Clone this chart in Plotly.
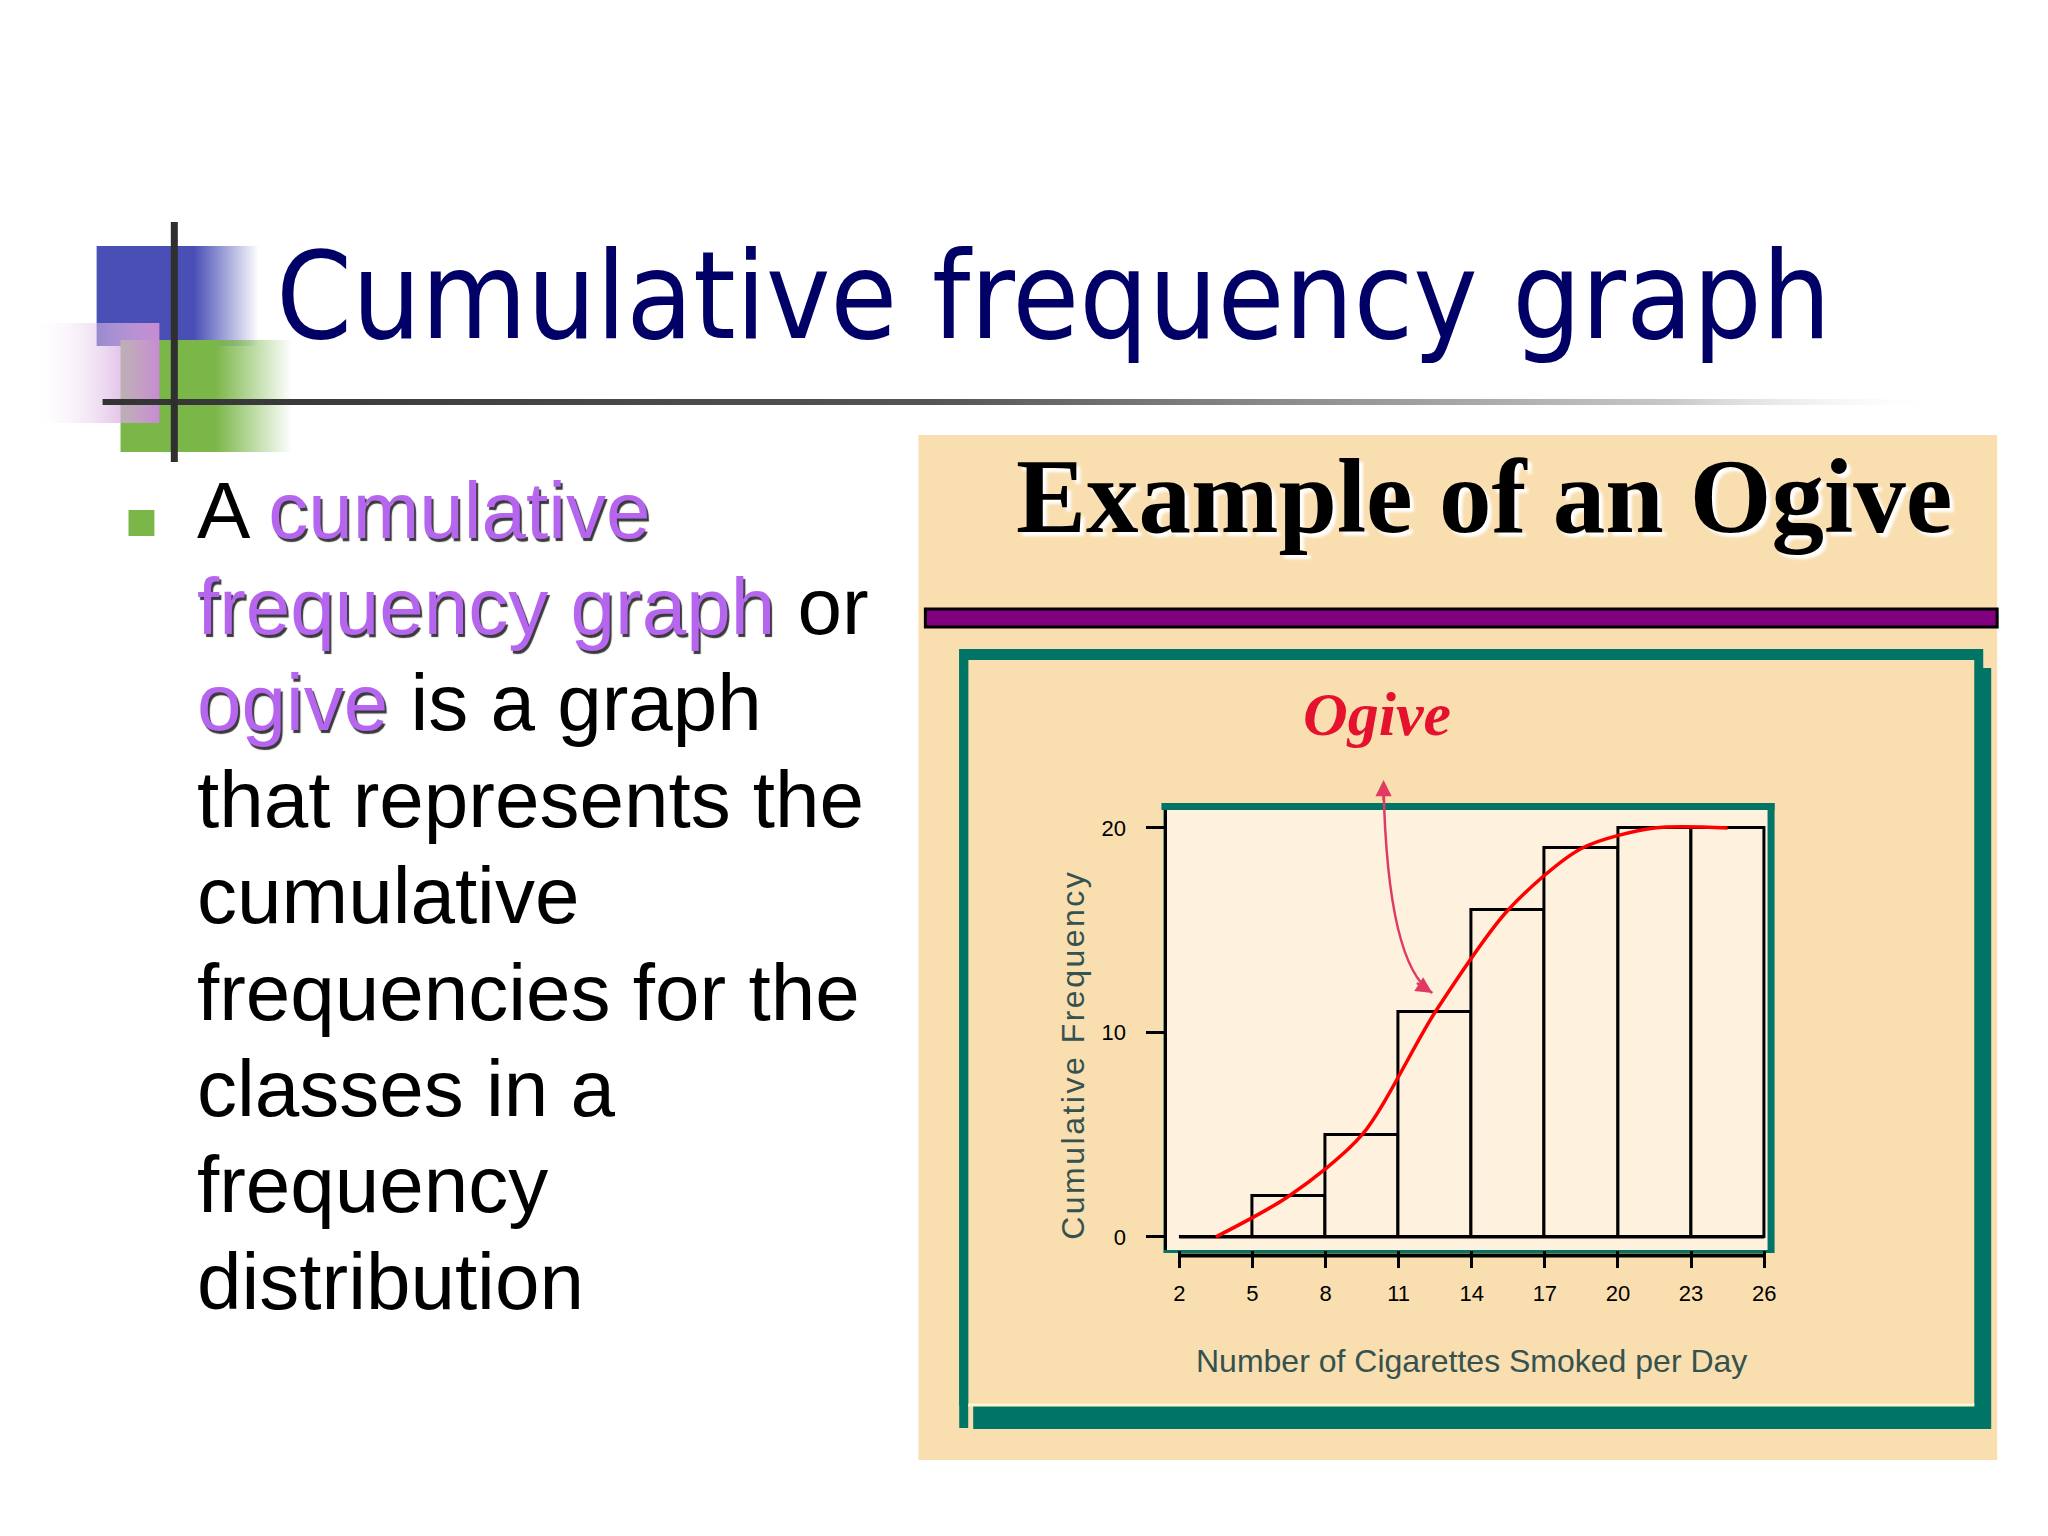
import plotly.graph_objects as go

W, H = 2048, 1536

# ---- chart data ----
class_edges = [2, 5, 8, 11, 14, 17, 20, 23, 26]
cum_freq = [0, 2, 5, 11, 16, 19, 20, 20]
x_tick_labels = ["2", "5", "8", "11", "14", "17", "20", "23", "26"]
y_ticks = [0, 10, 20]

slide_title = "Cumulative frequency graph"
chart_title = "Example of an Ogive"
curve_label = "Ogive"
x_title = "Number of Cigarettes Smoked per Day"
y_title = "Cumulative Frequency"

HILITE = "#B565EE"
hl = "<span style='color:%s;text-shadow:2px 3px 1px #3a3a3a'>%%s</span>" % HILITE
bullet_lines = [
    "A " + hl % "cumulative",
    hl % "frequency graph" + " or",
    hl % "ogive" + " is a graph",
    "that represents the",
    "cumulative",
    "frequencies for the",
    "classes in a",
    "frequency",
    "distribution",
]

class_mids = [(a + b) / 2 for a, b in zip(class_edges[:-1], class_edges[1:])]
class_widths = [b - a for a, b in zip(class_edges[:-1], class_edges[1:])]

PANEL = "#F9DEB0"
PLOT_BG = "#FEF1DE"
TEAL = "#007565"
PURPLE = "#800080"
NAVY = "#000066"
GREEN = "#7AB648"
AXIS_TXT = "#35524F"
ARROW = "#E03A64"


def px(x):
    return x / W


def py(y):
    return 1 - y / H


fig = go.Figure()

# histogram of cumulative frequencies
fig.add_trace(go.Bar(
    x=class_mids, y=cum_freq, width=class_widths,
    marker=dict(color=PLOT_BG, line=dict(color="black", width=3)),
    showlegend=False, hoverinfo="skip",
))
fig.add_trace(go.Scatter(
    x=[class_edges[0], class_edges[-1]], y=[cum_freq[0], cum_freq[0]],
    mode="lines", line=dict(color="black", width=3),
    showlegend=False, hoverinfo="skip",
))
# the ogive
fig.add_trace(go.Scatter(
    x=class_mids, y=cum_freq, mode="lines",
    line=dict(color="#FF0000", width=3.5, shape="spline", smoothing=0.8),
    showlegend=False, hoverinfo="skip",
))


# slide decoration (pixel canvas on x2/y2)
def deco(x0, x1, y0, y1, scale):
    fig.add_trace(go.Scatter(
        x=[x0, x1, x1, x0, x0], y=[y0, y0, y1, y1, y0],
        fill="toself", mode="none",
        fillgradient=dict(type="horizontal", colorscale=scale, start=x0, stop=x1),
        xaxis="x2", yaxis="y2", showlegend=False, hoverinfo="skip",
    ))


deco(97, 259, 246, 346, [[0, "#4A4FB5"], [0.6, "#4A4FB5"], [1, "rgba(74,79,181,0)"]])
deco(121, 292, 340, 452, [[0, GREEN], [0.55, GREEN], [1, "rgba(122,182,72,0)"]])
deco(29, 160, 323, 423, [[0, "rgba(255,255,255,0)"], [1, "#C88AD3"]])
deco(103, 1950, 399, 405, [[0, "#333333"], [0.45, "#555555"], [0.85, "#C8C8C8"], [1, "rgba(255,255,255,0)"]])

shapes = [
    # right picture panel
    dict(type="rect", xref="paper", yref="paper", x0=px(922), x1=px(2005), y0=py(435), y1=py(1460),
         fillcolor=PANEL, line=dict(width=0), layer="below"),
    dict(type="rect", xref="paper", yref="paper", x0=px(929), x1=px(2005), y0=py(609), y1=py(627),
         fillcolor=PURPLE, line=dict(color="black", width=3), layer="below"),
    # teal frame with shadow
    dict(type="rect", xref="paper", yref="paper", x0=px(977), x1=px(1999), y0=py(668), y1=py(1429),
         fillcolor=TEAL, line=dict(width=0), layer="below"),
    dict(type="rect", xref="paper", yref="paper", x0=px(963), x1=px(1991), y0=py(649), y1=py(1406),
         fillcolor=TEAL, line=dict(width=0), layer="below"),
    dict(type="rect", xref="paper", yref="paper", x0=px(972), x1=px(1982), y0=py(660), y1=py(1406),
         fillcolor=PANEL, line=dict(width=0), layer="below"),
    dict(type="line", xref="paper", yref="paper", x0=px(967.5), x1=px(967.5), y0=py(649), y1=py(1428),
         line=dict(color=TEAL, width=9), layer="below"),
    dict(type="line", xref="paper", yref="paper", x0=px(972), x1=px(1982), y0=py(1405), y1=py(1405),
         line=dict(color="#FFF8C8", width=3), layer="below"),
    # plot box: thin teal on left/bottom, heavier on top/right
    dict(type="rect", xref="paper", yref="paper", x0=px(1169.5), x1=px(1778), y0=py(806.5), y1=py(1251.5),
         fillcolor=PLOT_BG, line=dict(color=TEAL, width=3), layer="below"),
    dict(type="line", xref="paper", yref="paper", x0=px(1166), x1=px(1781.5), y0=py(806.5), y1=py(806.5),
         line=dict(color=TEAL, width=7), layer="below"),
    dict(type="line", xref="paper", yref="paper", x0=px(1778), x1=px(1778), y0=py(803), y1=py(1253),
         line=dict(color=TEAL, width=7), layer="below"),
    # x axis line under the box
    dict(type="line", xref="x", yref="paper", x0=class_edges[0], x1=class_edges[-1],
         y0=py(1255.5), y1=py(1255.5), line=dict(color="black", width=4), layer="above"),
    # slide ornaments
    dict(type="line", xref="paper", yref="paper", x0=px(175), x1=px(175), y0=py(222), y1=py(462),
         line=dict(color="#2F2F2F", width=7), layer="above"),
    dict(type="rect", xref="paper", yref="paper", x0=px(129), x1=px(155), y0=py(510), y1=py(536),
         fillcolor=GREEN, line=dict(width=0), layer="above"),
    # arrow from label to curve
    dict(type="path", xref="paper", yref="paper",
         path="M %f,%f Q %f,%f %f,%f" % (px(1389), py(787), px(1393), py(965), px(1438), py(993)),
         line=dict(color=ARROW, width=2.5), layer="above"),
]

annotations = [
    dict(text=slide_title, x=px(275), y=py(296), xanchor="left", yanchor="middle",
         font=dict(family="DejaVu Sans Condensed, Liberation Sans", size=121, color=NAVY)),
    dict(text=chart_title, x=px(1490), y=py(497), xanchor="center", yanchor="middle",
         font=dict(family="Liberation Serif", size=105, color="black", weight="bold",
                   shadow="4px 4px 3px #ffffff")),
    dict(text=curve_label, x=px(1382), y=py(714), xanchor="center", yanchor="middle",
         font=dict(family="Liberation Serif", size=62, color="#E5122F", weight="bold", style="italic")),
    dict(text=x_title, x=px(1477), y=py(1361), xanchor="center", yanchor="middle",
         font=dict(family="Liberation Sans", size=32, color=AXIS_TXT)),
    dict(text="<span style='letter-spacing:2.5px'>%s</span>" % y_title,
         x=px(1077), y=py(1055), xanchor="center", yanchor="middle", textangle=-90,
         font=dict(family="Liberation Sans", size=32, color=AXIS_TXT)),
    # arrow heads
    dict(text="", x=px(1389), y=py(780), ax=0, ay=22, showarrow=True, arrowhead=2,
         arrowsize=1.3, arrowwidth=2.5, arrowcolor=ARROW),
    dict(text="", x=px(1438), y=py(993), ax=-17, ay=-11, showarrow=True, arrowhead=2,
         arrowsize=1.3, arrowwidth=2.5, arrowcolor=ARROW),
]

for i, line in enumerate(bullet_lines):
    annotations.append(dict(
        text=line, x=px(196), y=py(538 + i * 96.4 - 28), xanchor="left", yanchor="middle",
        font=dict(family="Liberation Sans", size=80, color="black"),
    ))

for a in annotations:
    a.setdefault("xref", "paper")
    a.setdefault("yref", "paper")
    a.setdefault("showarrow", False)

fig.update_layout(
    width=W, height=H,
    margin=dict(l=0, r=0, t=0, b=0),
    paper_bgcolor="white",
    plot_bgcolor="rgba(0,0,0,0)",
    shapes=shapes,
    annotations=annotations,
    bargap=0,
    xaxis=dict(
        domain=[px(1172), px(1775)], range=[1.51, 26.16],
        tickmode="array", tickvals=class_edges, ticktext=x_tick_labels,
        ticks="outside", ticklen=17, tickwidth=3, tickcolor="black", ticklabelstandoff=7,
        tickfont=dict(family="Liberation Sans", size=22, color="black"),
        showline=False, showgrid=False, zeroline=False, fixedrange=True,
    ),
    yaxis=dict(
        domain=[py(1250), py(810)], range=[-0.64, 20.88],
        tickmode="array", tickvals=y_ticks,
        ticks="outside", ticklen=18, tickwidth=3, tickcolor="black", ticklabelstandoff=16,
        tickfont=dict(family="Liberation Sans", size=22, color="black"),
        showline=True, linecolor="black", linewidth=3,
        showgrid=False, zeroline=False, fixedrange=True,
    ),
    xaxis2=dict(domain=[0, 1], range=[0, W], visible=False, fixedrange=True),
    yaxis2=dict(domain=[py(480), py(150)], range=[480, 150], visible=False, fixedrange=True),
)

fig.write_html(
    "out.html",
    config=dict(displayModeBar=False),
    post_script="document.body.style.margin='0';document.body.style.overflow='hidden';",
)
